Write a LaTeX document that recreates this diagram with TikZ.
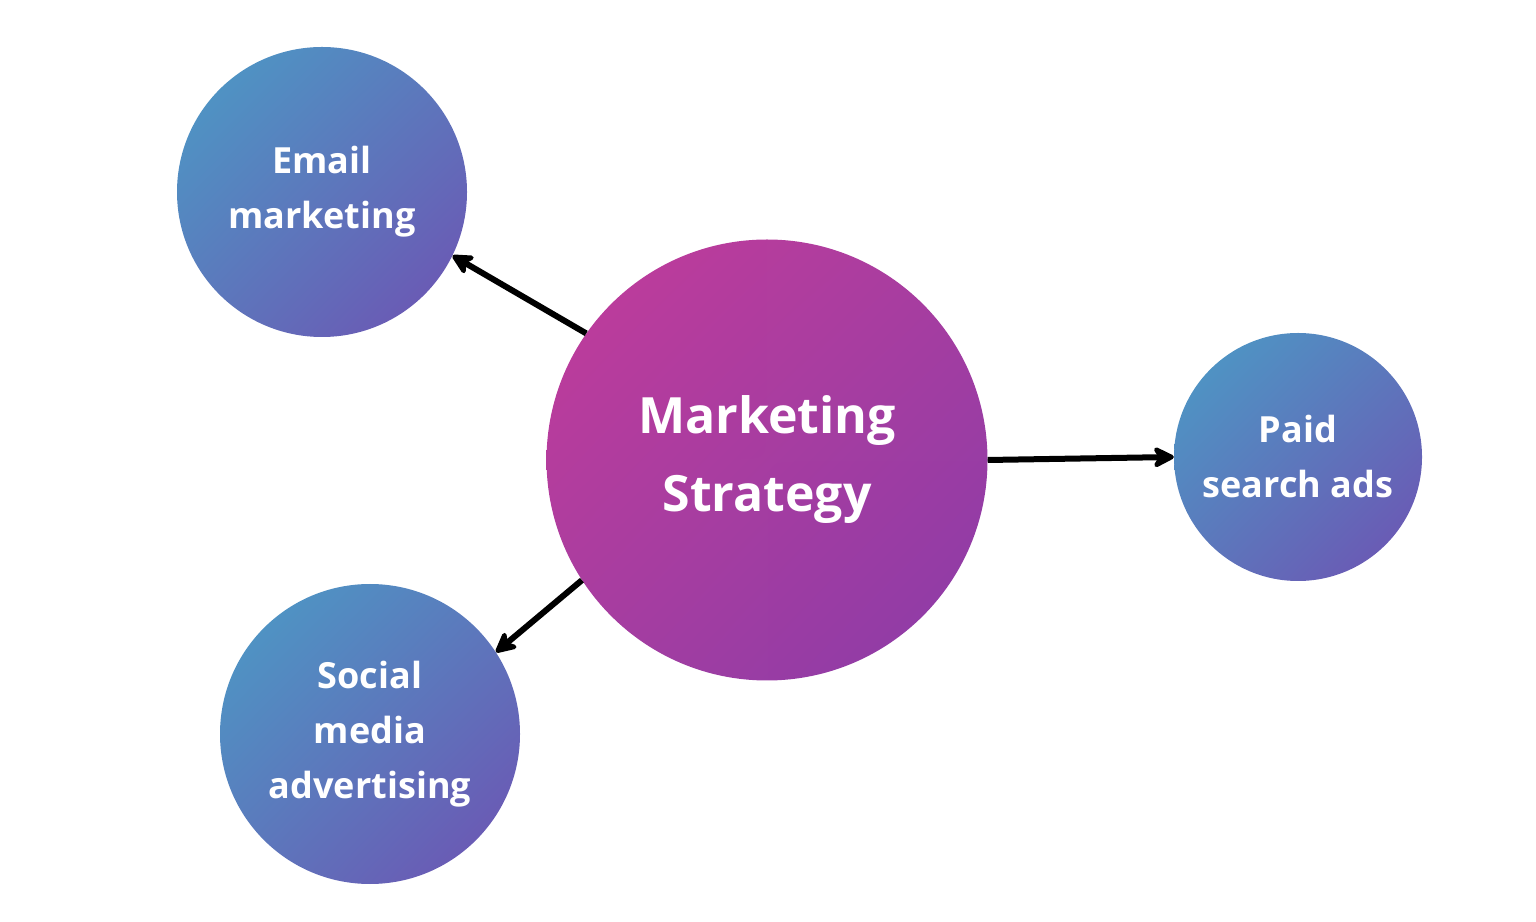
\documentclass[tikz,border=0pt]{standalone}
\usepackage{fontspec}
\setmainfont{Open Sans}
\usetikzlibrary{arrows.meta,shadings}
\definecolor{mA}{HTML}{C33C9A}\definecolor{mB}{HTML}{8A3CA8}\definecolor{mM}{HTML}{A63DA0}
\definecolor{bA}{HTML}{4A9DC6}\definecolor{bB}{HTML}{6F50B2}\definecolor{bM}{HTML}{5C78BC}
\tikzset{
 bub/.style={circle,inner sep=0pt,text=white,align=center,font=\bfseries\fontsize{36}{55}\selectfont,
   shade,upper left=bA,lower right=bB,upper right=bM,lower left=bM},
 link/.style={line width=6pt,-{Stealth[length=26pt,width=26pt,inset=8pt,round]}}
}
\begin{document}
\begin{tikzpicture}[x=1pt,y=1pt]
\useasboundingbox (0,0) rectangle (1536,921);
\node[bub,minimum size=441pt,upper left=mA,lower right=mB,upper right=mM,lower left=mM,
  font=\bfseries\fontsize{50}{78}\selectfont] (main) at (767,461) {Marketing\\Strategy};
\node[bub,minimum size=290pt] (email) at (322,729) {Email\\marketing};
\node[bub,minimum size=300pt] (social) at (370,187) {Social\\media\\advertising};
\node[bub,minimum size=248pt] (paid) at (1298,464) {Paid\\search ads};
\draw[link] (main.145) -- (email.-26);
\draw[link] (main.213) -- (social.33);
\draw[link] (main.0) -- (paid.180);
\end{tikzpicture}
\end{document}
